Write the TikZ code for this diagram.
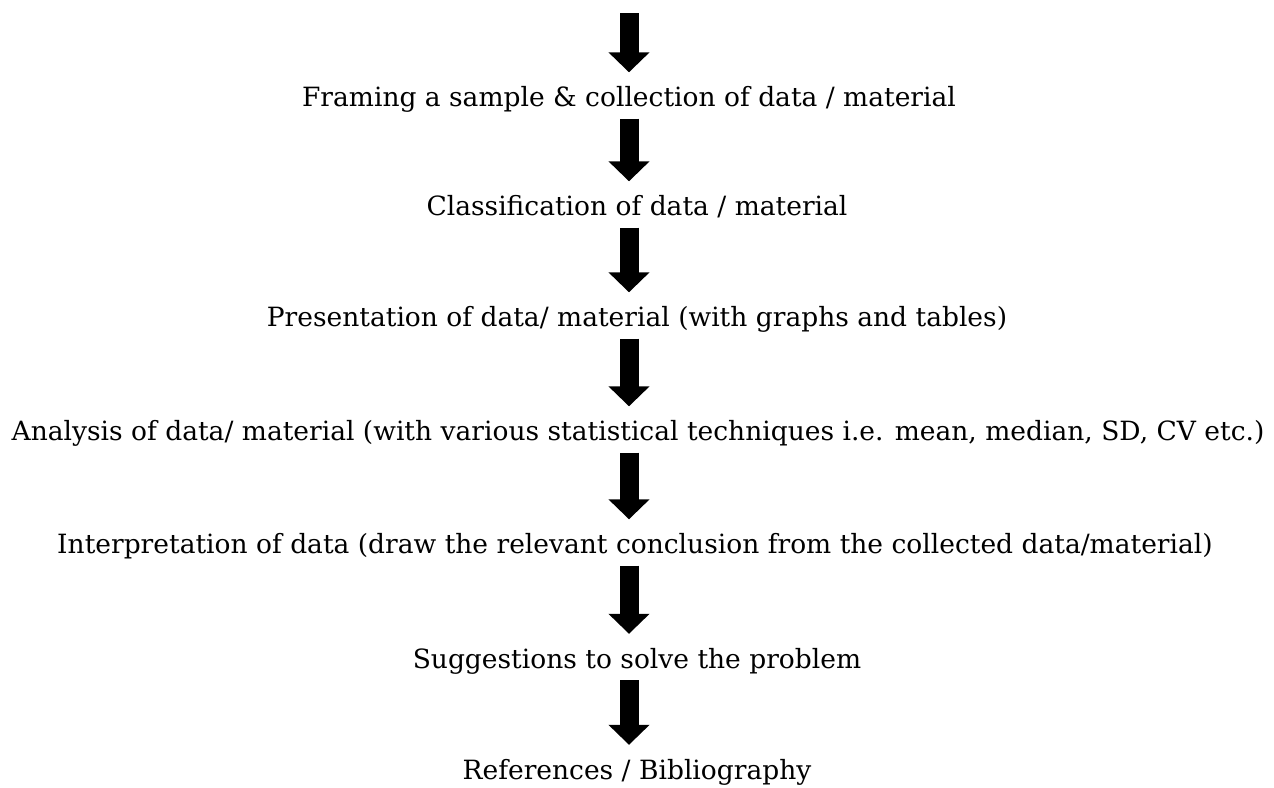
\documentclass[tikz,border=0pt]{standalone}
\usepackage{fontspec}
\setmainfont{DejaVu Serif}
\usetikzlibrary{arrows.meta}
\begin{document}
\begin{tikzpicture}[x=1pt,y=-1pt,
  stepnode/.style={anchor=base,inner xsep=0pt,inner ysep=12pt,text height=22pt,text depth=0pt,
    font=\fontsize{26.5}{31}\selectfont},
  bigarrow/.style={line width=19pt,-{Triangle[width=40pt,length=20pt]}}]
\useasboundingbox (0,0) rectangle (1274,787);
\coordinate (axis) at (629,0);
\coordinate (top) at (629,13);
\node[stepnode] (t1) at (629,106.5) {Framing a sample \& collection of data / material};
\node[stepnode] (t2) at (637,215.5) {Classification of data / material};
\node[stepnode] (t3) at (637,326.5) {Presentation of data/ material (with graphs and tables)};
\node[stepnode] (t4) at (638,440.5) {Analysis of data/ material (with various statistical techniques i.e. mean, median, SD, CV etc.)};
\node[stepnode] (t5) at (635,553.5) {Interpretation of data (draw the relevant conclusion from the collected data/material)};
\node[stepnode] (t6) at (637,668) {Suggestions to solve the problem};
\node[stepnode] (t7) at (637,779) {References / Bibliography};
\draw[bigarrow] (top) -- (t1.north -| axis);
\draw[bigarrow] (t1.south -| axis) -- (t2.north -| axis);
\draw[bigarrow] (t2.south -| axis) -- (t3.north -| axis);
\draw[bigarrow] (t3.south -| axis) -- (t4.north -| axis);
\draw[bigarrow] (t4.south -| axis) -- (t5.north -| axis);
\draw[bigarrow] (t5.south -| axis) -- (t6.north -| axis);
\draw[bigarrow] (t6.south -| axis) -- (t7.north -| axis);
\end{tikzpicture}
\end{document}
